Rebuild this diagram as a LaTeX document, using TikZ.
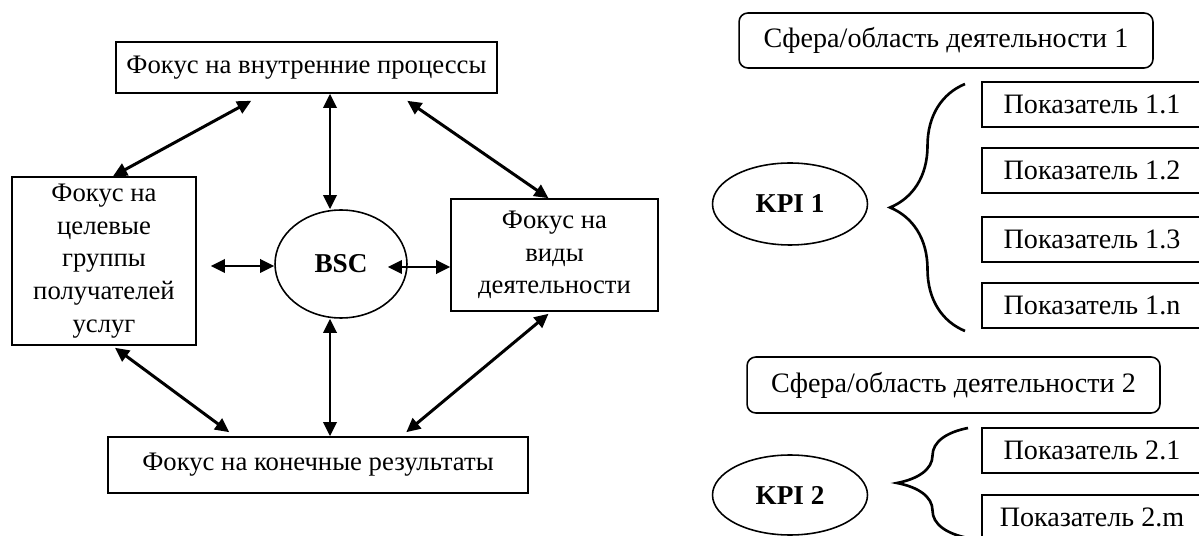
\documentclass[tikz,border=0pt]{standalone}
\usepackage{fontspec}
\setmainfont{Liberation Serif}
\usetikzlibrary{arrows.meta,calc,decorations.pathreplacing,shapes.geometric}

\tikzset{
  box/.style={draw,line width=0.9pt,inner sep=0pt,align=center},
  sphere/.style={draw,line width=0.9pt,rounded corners=5pt,inner sep=0pt,font=\fontsize{16}{19}\selectfont},
  mark box/.style={box,minimum width=4.4cm,minimum height=0.9cm,font=\fontsize{16}{19}\selectfont},
  oval/.style={draw,ellipse,line width=0.9pt,inner sep=0pt,font=\fontsize{15.5}{18}\selectfont\bfseries},
  link/.style={{Triangle[length=8pt,width=7.5pt]}-{Triangle[length=8pt,width=7.5pt]},line width=1.7pt},
  curly/.style={decorate,decoration={brace,amplitude=#1},line width=1.5pt},
}

\begin{document}
\begin{tikzpicture}[x=0.02cm,y=-0.02cm,font=\fontsize{15.2}{18.6}\selectfont]
    \clip (0,0) rectangle (1199,536);

    % left part: BSC
    \node[box,minimum width=7.62cm,minimum height=1.02cm] (proc) at (306.5,67.5) {Фокус на внутренние процессы};
    \node[box,minimum width=3.68cm,minimum height=3.36cm] (groups) at (104,261) {Фокус на\\целевые\\группы\\получателей\\услуг};
    \node[oval,minimum width=2.64cm,minimum height=2.16cm] (bsc) at (341,264) {BSC};
    \node[box,minimum width=4.14cm,minimum height=2.24cm] (act) at (554.5,255) {Фокус на\\виды\\деятельности};
    \node[box,minimum width=8.4cm,minimum height=1.12cm] (res) at (318,465) {Фокус на конечные результаты};

    \draw[link] ($(proc.south west)+(136,7)$) -- ($(groups.north)+(9,0)$);
    \draw[link] ($(proc.south west)+(292,7)$) -- ($(act.north)+(-6,0)$);
    \draw[link] ($(groups.south)+(11,2)$) -- ($(res.north west)+(122,-4)$);
    \draw[link] ($(act.south)+(-6,2)$) -- ($(res.north west)+(299,-4)$);
    \draw[link] ($(bsc.north)+(-11,0)$) -- ($(bsc.north |- proc.south)+(-11,0)$);
    \draw[link] ($(bsc.south)+(-11,0)$) -- ($(bsc.south |- res.north)+(-11,0)$);
    \draw[link] ($(groups.east)+(14,5)$) -- ($(bsc.west)+(0,2)$);
    \draw[link] ($(bsc.east)+(-20,3)$) -- ($(act.west)+(0,12)$);

    % right part: KPI
    \node[sphere,minimum width=8.28cm,minimum height=1.1cm] (sph1) at (946,40.5) {Сфера/область деятельности 1};
    \node[mark box] (p11) at (1092,104.5) {Показатель 1.1};
    \node[mark box] (p12) at (1092,170.5) {Показатель 1.2};
    \node[mark box] (p13) at (1092,239.5) {Показатель 1.3};
    \node[mark box] (p1n) at (1092,305.5) {Показатель 1.n};
    \node[oval,minimum width=3.1cm,minimum height=1.64cm] (kpi1) at (790,204) {KPI 1};
    \coordinate (b1top) at (965,84);
    \coordinate (b1bot) at (965,331);
    \draw[curly=1.5cm] (b1bot) -- (b1top);

    \node[sphere,minimum width=8.26cm,minimum height=1.12cm] (sph2) at (953.5,385) {Сфера/область деятельности 2};
    \node[mark box] (p21) at (1092,450.5) {Показатель 2.1};
    \node[mark box] (p2m) at (1092,517.5) {Показатель 2.m};
    \node[oval,minimum width=3.1cm,minimum height=1.6cm] (kpi2) at (790,495) {KPI 2};
    \coordinate (b2top) at (968,428);
    \coordinate (b2bot) at (968,538);
    \draw[curly=1.42cm] (b2bot) -- (b2top);
\end{tikzpicture}
\end{document}
